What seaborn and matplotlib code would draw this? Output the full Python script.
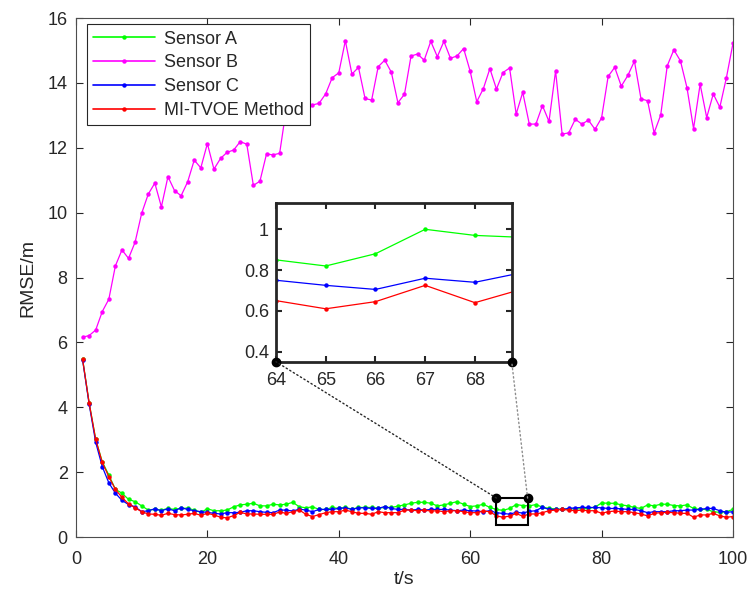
import numpy as np
import pandas as pd
import seaborn as sns
import matplotlib.pyplot as plt
from matplotlib.lines import Line2D
from matplotlib.patches import Rectangle, ConnectionPatch

# time steps
t = list(range(1, 101))

# RMSE values
sensor_a = [5.49, 4.14, 3.01, 2.32, 1.91, 1.47, 1.35, 1.16, 1.09,
            0.96, 0.83, 0.85, 0.83, 0.88, 0.85, 0.88, 0.89, 0.83, 0.76, 0.87,
            0.81, 0.81, 0.83, 0.93, 0.99, 1.01, 1.04, 0.96, 0.96, 1.01,
            0.99, 1.01, 1.07, 0.93, 0.90, 0.93, 0.85, 0.85, 0.91, 0.88,
            0.91, 0.86, 0.91, 0.91, 0.91, 0.89, 0.91, 0.91, 0.95, 0.99,
            1.04, 1.07, 1.07, 1.04, 0.96, 0.99, 1.04, 1.09, 1.01, 0.94,
            0.96, 1.01, 0.91, 0.85, 0.82, 0.88, 1.00, 0.97, 0.96, 1.00,
            0.92, 0.88, 0.87, 0.85, 0.87, 0.87, 0.87, 0.88, 0.92, 1.05,
            1.04, 1.04, 0.99, 0.96, 0.91, 0.88, 0.99, 0.96, 1.01, 1.01,
            0.97, 0.96, 0.99, 0.88, 0.85, 0.85, 0.78, 0.76, 0.78, 0.85]
sensor_b = [6.16, 6.21, 6.38, 6.95, 7.33, 8.36, 8.85, 8.59, 9.09, 9.98,
            10.57, 10.91, 10.18, 11.11, 10.68, 10.52, 10.95, 11.62, 11.38, 12.13,
            11.34, 11.67, 11.86, 11.93, 12.19, 12.11, 10.84, 10.97, 11.81, 11.78,
            11.83, 13.20, 13.30, 13.30, 13.35, 13.32, 13.37, 13.66, 14.16, 14.31,
            15.30, 14.27, 14.48, 13.52, 13.47, 14.50, 14.70, 14.33, 13.39, 13.65,
            14.83, 14.89, 14.70, 15.28, 14.81, 15.28, 14.76, 14.83, 15.06, 14.36,
            13.42, 13.82, 14.44, 13.81, 14.32, 14.46, 13.04, 13.71, 12.73, 12.73,
            13.30, 12.81, 14.37, 12.42, 12.46, 12.88, 12.73, 12.85, 12.57, 12.92,
            14.20, 14.48, 13.90, 14.23, 14.67, 13.51, 13.45, 12.46, 13.01, 14.53,
            15.02, 14.68, 13.85, 12.59, 13.96, 12.93, 13.66, 13.25, 14.16, 15.22]
sensor_c = [5.47, 4.10, 2.92, 2.17, 1.67, 1.35, 1.13, 1.00, 0.93,
            0.78, 0.81, 0.87, 0.81, 0.87, 0.81, 0.90, 0.85, 0.81, 0.78, 0.76,
            0.73, 0.71, 0.75, 0.75, 0.76, 0.81, 0.81, 0.78, 0.76, 0.75,
            0.83, 0.83, 0.80, 0.86, 0.83, 0.78, 0.85, 0.85, 0.85, 0.88,
            0.90, 0.85, 0.90, 0.90, 0.88, 0.88, 0.94, 0.88, 0.85, 0.85,
            0.83, 0.85, 0.83, 0.85, 0.85, 0.85, 0.83, 0.81, 0.83, 0.81,
            0.80, 0.78, 0.81, 0.75, 0.725, 0.705, 0.76, 0.74, 0.79, 0.81,
            0.92, 0.85, 0.85, 0.85, 0.88, 0.90, 0.91, 0.91, 0.91, 0.90,
            0.88, 0.88, 0.87, 0.85, 0.85, 0.81, 0.75, 0.78, 0.78, 0.78,
            0.81, 0.81, 0.83, 0.83, 0.85, 0.88, 0.88, 0.81, 0.76, 0.78]
mi_tvoe = [5.49, 4.14, 3.01, 2.30, 1.86, 1.47, 1.22, 1.02, 0.90,
           0.78, 0.71, 0.70, 0.67, 0.73, 0.69, 0.68, 0.70, 0.73, 0.67, 0.73,
           0.68, 0.61, 0.59, 0.66, 0.76, 0.71, 0.71, 0.70, 0.70, 0.70,
           0.77, 0.73, 0.78, 0.83, 0.70, 0.63, 0.69, 0.75, 0.78, 0.78,
           0.83, 0.78, 0.73, 0.73, 0.70, 0.78, 0.75, 0.75, 0.75, 0.83,
           0.83, 0.81, 0.83, 0.80, 0.81, 0.78, 0.81, 0.81, 0.78, 0.75,
           0.75, 0.80, 0.78, 0.65, 0.61, 0.645, 0.725, 0.64, 0.71, 0.71,
           0.75, 0.81, 0.83, 0.85, 0.83, 0.81, 0.83, 0.81, 0.81, 0.73,
           0.78, 0.80, 0.78, 0.78, 0.75, 0.71, 0.65, 0.73, 0.75, 0.76,
           0.75, 0.73, 0.73, 0.61, 0.68, 0.68, 0.73, 0.65, 0.61, 0.63]

labels = ['Sensor A', 'Sensor B', 'Sensor C', 'MI-TVOE Method']
colors = ['#00ff00', '#ff00ff', '#0000ff', '#ff0000']
xticks = [0, 20, 40, 60, 80, 100]
yticks = [0, 2, 4, 6, 8, 10, 12, 14, 16]
zoom_xticks = [64, 65, 66, 67, 68]
zoom_yticks = [0.4, 0.6, 0.8, 1.0]
zoom_ylabels = ['0.4', '0.6', '0.8', '1']

# long-form table for seaborn
df = pd.DataFrame({
    't': t * 4,
    'rmse': sensor_a + sensor_b + sensor_c + mi_tvoe,
    'series': np.repeat(labels, len(t)),
})
palette = dict(zip(labels, colors))

sns.set_style('ticks')
plt.rcParams['font.family'] = ['Liberation Sans', 'DejaVu Sans']
edge = '#262626'

fig = plt.figure(figsize=(7.5, 5.97), dpi=100)
ax = fig.add_axes([0.1013, 0.1005, 0.876, 0.8693])

line_kw = dict(marker='o', markersize=3.2, markeredgewidth=0, linewidth=0.9,
               estimator=None, errorbar=None)
sns.lineplot(data=df, x='t', y='rmse', hue='series', hue_order=labels,
             palette=palette, legend=False, ax=ax, **line_kw)

ax.set_xlim(0, 100)
ax.set_ylim(0, 16)
ax.set_xticks(xticks)
ax.set_yticks(yticks)
ax.set_xlabel('t/s', fontsize=14, color=edge, labelpad=2)
ax.set_ylabel('RMSE/m', fontsize=14, color=edge, labelpad=8)
ax.tick_params(direction='in', top=True, right=True, length=5, width=0.8,
               labelsize=13, colors=edge, pad=6)
ax.tick_params(axis='x', pad=10)
for sp in ax.spines.values():
    sp.set_visible(True)
    sp.set_color('#4d4d4d')
    sp.set_linewidth(0.8)

handles = [Line2D([], [], color=c, marker='o', markersize=3.2,
                  markeredgewidth=0, linewidth=1.2) for c in colors]
leg = ax.legend(handles, labels, loc='upper left',
                bbox_to_anchor=(0.0167, 0.988), borderaxespad=0,
                fontsize=13, handlelength=3.4, handletextpad=0.5,
                labelspacing=0.38, borderpad=0.35, fancybox=False,
                framealpha=1, edgecolor=edge)
leg.get_frame().set_linewidth(0.8)

# zoom rectangle on the main axes
x0, x1 = 64, 68.74
r0, r1 = 0.38, 1.2
ax.add_patch(Rectangle((x0, r0), x1 - x0, r1 - r0, fill=False,
                       edgecolor='black', linewidth=1.5, zorder=5))
ax.plot([x0, x1], [r1, r1], 'o', color='black', markersize=6,
        clip_on=False, zorder=6)

# inset
axin = fig.add_axes([0.368, 0.394, 0.3143, 0.2663])
sns.lineplot(data=df, x='t', y='rmse', hue='series', hue_order=labels,
             palette=palette, legend=False, ax=axin, **line_kw)
axin.set_xlim(x0, x1)
axin.set_ylim(0.35, 1.13)
axin.set_xticks(zoom_xticks)
axin.set_yticks(zoom_yticks)
axin.set_yticklabels(zoom_ylabels)
axin.set_xlabel('')
axin.set_ylabel('')
axin.tick_params(direction='in', top=True, right=True, length=4, width=1.5,
                 labelsize=13, colors=edge, pad=5)
axin.tick_params(axis='x', pad=7)
for sp in axin.spines.values():
    sp.set_visible(True)
    sp.set_color('#262626')
    sp.set_linewidth(2)
axin.plot([x0, x1], [0.35, 0.35], 'o', color='black', markersize=6,
          clip_on=False, zorder=6)

# dotted connectors
for (xa, xb), col in [((x0, x0), '0.15'), ((x1, x1), '0.55')]:
    con = ConnectionPatch(xyA=(xa, r1), coordsA=ax.transData,
                          xyB=(xb, 0.35), coordsB=axin.transData,
                          linestyle=(0, (1, 2)), color=col, linewidth=1.0)
    fig.add_artist(con)

fig.savefig('out.png', dpi=100)
